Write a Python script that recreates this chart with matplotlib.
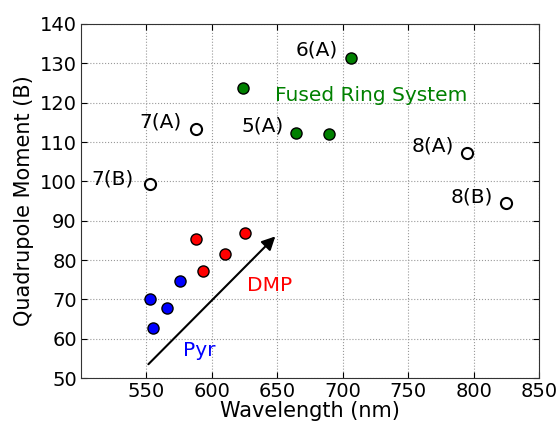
import numpy as np
import matplotlib.pyplot as plt

plt.rcParams['font.family'] = ['DejaVu Sans']

# 数据
open_x = [552.5, 588, 795, 825]
open_y = [99.3, 113.3, 107.2, 94.5]
fused_x = [624, 706, 664, 689.5]
fused_y = [123.7, 131.3, 112.3, 112.0]
dmp_x = [588, 593.6, 610, 625.6]
dmp_y = [85.3, 77.2, 81.5, 86.8]
pyr_x = [552.5, 554.8, 566, 576]
pyr_y = [70.0, 62.6, 67.7, 74.6]

labels = ['6(A)', '7(A)', '5(A)', '7(B)', '8(A)', '8(B)']
label_x = [696, 577, 623, 540, 785, 815]
label_y = [133.4, 115.1, 114.0, 100.6, 109.0, 96.0]
label_ha = ['right', 'right', 'left', 'right', 'right', 'right']

fig = plt.figure(figsize=(5.57, 4.21), dpi=100)
ax = fig.add_axes([81/557, 1-378/421, 458/557, 354/421])

ms = 8
ax.plot(open_x, open_y, 'o', ms=ms, mfc='white', mec='black', mew=1.5)
ax.plot(fused_x, fused_y, 'o', ms=ms, mfc='green', mec='black', mew=1)
ax.plot(dmp_x, dmp_y, 'o', ms=ms, mfc='red', mec='black', mew=1)
ax.plot(pyr_x, pyr_y, 'o', ms=ms, mfc='blue', mec='black', mew=1)

fs = 14.5
for t, x, y, ha in zip(labels, label_x, label_y, label_ha):
    ax.text(x, y, t, ha=ha, va='center', fontsize=fs, color='black')

ax.text(648.4, 121.9, 'Fused Ring System', color='green', fontsize=fs, va='center')
ax.text(627, 73.6, 'DMP', color='red', fontsize=fs, va='center')
ax.text(577.6, 57, 'Pyr', color='blue', fontsize=fs, va='center')

ax.annotate('', xy=(650, 86.5), xytext=(550, 53),
            arrowprops=dict(arrowstyle='-|>', color='black', lw=1.5, mutation_scale=20))

ax.set_xlim(500, 850)
ax.set_ylim(50, 140)
ax.set_xticks(range(550, 851, 50))
ax.set_yticks(range(50, 141, 10))
ax.tick_params(direction='in', labelsize=14, length=4, pad=3, top=True, right=True)
ax.grid(True, linestyle=':', color='#999999', lw=0.8)
ax.set_xlabel('Wavelength (nm)', fontsize=15, labelpad=0)
ax.set_ylabel('Quadrupole Moment (B)', fontsize=15, labelpad=4)
for s in ax.spines.values():
    s.set_color('#333333')

plt.savefig('out.png', dpi=100)
